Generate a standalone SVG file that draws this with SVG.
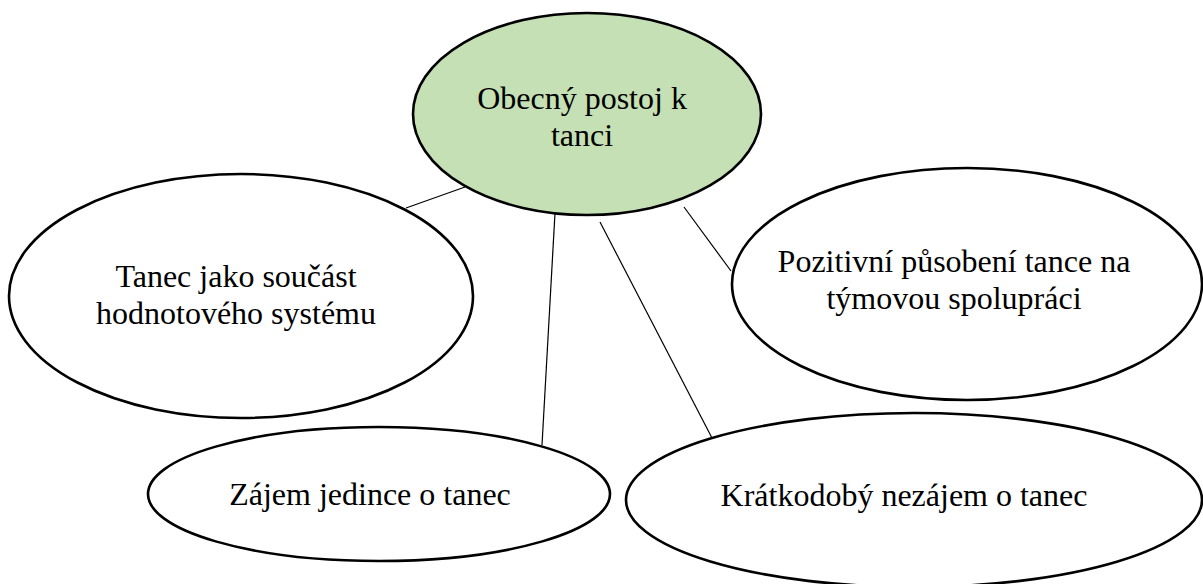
<svg xmlns="http://www.w3.org/2000/svg" width="1203" height="584" viewBox="0 0 1203 584">
  <style>
    .node { fill: #ffffff; stroke: #000000; stroke-width: 2.6; }
    .root { fill: #c5e0b4; }
    .label { font-family: "Liberation Serif", "Times New Roman", serif; font-size: 32px; fill: #000000; text-anchor: middle; }
    .edge { stroke: #000000; stroke-width: 1.2; fill: none; }
  </style>
  <rect width="1203" height="584" fill="#ffffff"/>
  <g id="connectors">
    <line class="edge" x1="465" y1="187" x2="406" y2="208"/>
    <line class="edge" x1="555" y1="213" x2="542" y2="445"/>
    <line class="edge" x1="600" y1="222" x2="712" y2="438"/>
    <line class="edge" x1="684" y1="207" x2="731" y2="271"/>
  </g>
  <g id="node-root">
    <ellipse class="node root" cx="587" cy="114" rx="174" ry="101"/>
    <text class="label" x="582" y="109">Obecný postoj k</text>
    <text class="label" x="582" y="146">tanci</text>
  </g>
  <g id="node-hodnoty">
    <ellipse class="node" cx="241" cy="296" rx="232" ry="122"/>
    <text class="label" x="236" y="287">Tanec jako součást</text>
    <text class="label" x="236" y="324">hodnotového systému</text>
  </g>
  <g id="node-tym">
    <ellipse class="node" cx="967" cy="284" rx="235" ry="116"/>
    <text class="label" x="954" y="272">Pozitivní působení tance na</text>
    <text class="label" x="954" y="309">týmovou spolupráci</text>
  </g>
  <g id="node-zajem">
    <ellipse class="node" cx="379" cy="494" rx="231" ry="67"/>
    <text class="label" x="370" y="505">Zájem jedince o tanec</text>
  </g>
  <g id="node-nezajem">
    <ellipse class="node" cx="914" cy="500" rx="288" ry="87"/>
    <text class="label" x="904" y="506">Krátkodobý nezájem o tanec</text>
  </g>
</svg>
